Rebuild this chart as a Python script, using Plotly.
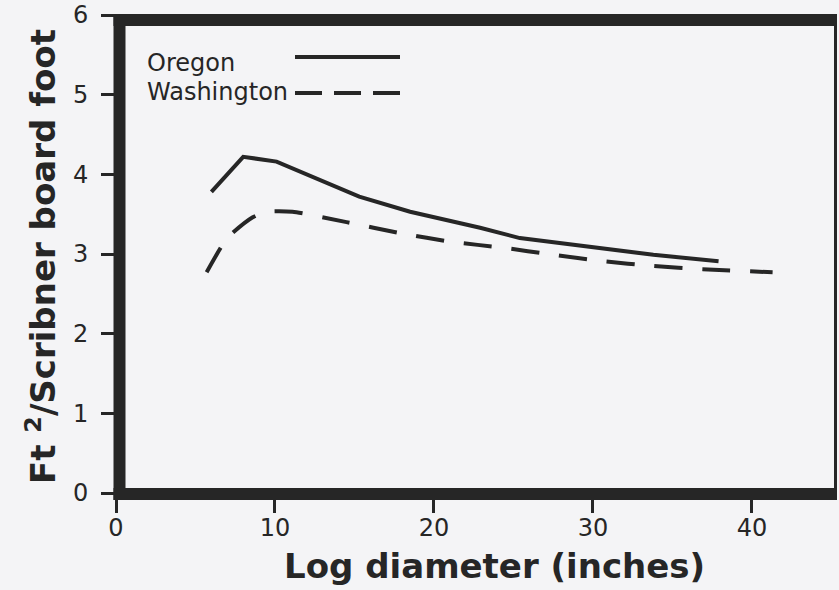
import plotly.graph_objects as go

# Data
oregon_x = [6.0, 8.0, 10.1, 12.8, 15.3, 18.5, 22.9, 25.4, 30.2, 33.8, 37.9]
oregon_y = [3.78, 4.22, 4.16, 3.93, 3.72, 3.53, 3.33, 3.20, 3.08, 2.99, 2.91]
washington_x = [5.7, 7.0, 8.6, 9.5, 11.1, 14.5, 17.9, 21.2, 24.3, 27.5, 30.6, 33.8, 36.9, 41.3]
washington_y = [2.77, 3.20, 3.46, 3.53, 3.53, 3.40, 3.26, 3.15, 3.08, 2.99, 2.91, 2.85, 2.81, 2.77]
x_ticks = [0, 10, 20, 30, 40]
y_ticks = [0, 1, 2, 3, 4, 5, 6]
series_names = ["Oregon", "Washington"]

W, H = 839, 590
L, R, T, B = 116, 2, 15, 97
PW, PH = W - L - R, H - T - B
INK = "#262626"
BG = "#f4f4f6"
FONT = "DejaVu Sans, Arial"


def px(xp):
    return (xp - L) / PW


def py(yp):
    return (H - B - yp) / PH


fig = go.Figure()
fig.add_trace(go.Scatter(x=oregon_x, y=oregon_y, mode="lines", name=series_names[0],
                         line=dict(color=INK, width=4)))
fig.add_trace(go.Scatter(x=washington_x, y=washington_y, mode="lines", name=series_names[1],
                         line=dict(color=INK, width=4, dash="28px,20px", shape="spline", smoothing=0.6)))

shapes = []
# frame
shapes.append(dict(type="line", xref="paper", yref="paper", x0=px(119.5), x1=px(119.5),
                   y0=py(500), y1=py(14), line=dict(color=INK, width=12)))
shapes.append(dict(type="line", xref="paper", yref="paper", x0=px(113.5), x1=px(837),
                   y0=py(494), y1=py(494), line=dict(color=INK, width=12)))
shapes.append(dict(type="line", xref="paper", yref="paper", x0=px(113.5), x1=px(837),
                   y0=py(20), y1=py(20), line=dict(color=INK, width=12)))
shapes.append(dict(type="line", xref="paper", yref="paper", x0=px(835.5), x1=px(835.5),
                   y0=py(500), y1=py(14), line=dict(color=INK, width=3)))
# legend samples
shapes.append(dict(type="line", xref="paper", yref="paper", x0=px(295), x1=px(400),
                   y0=py(57), y1=py(57), line=dict(color=INK, width=4)))
shapes.append(dict(type="line", xref="paper", yref="paper", x0=px(295), x1=px(400),
                   y0=py(93), y1=py(93), line=dict(color=INK, width=4, dash="27px,12px")))

annotations = [
    dict(text=series_names[0], xref="paper", yref="paper", x=px(145), y=py(63),
         xanchor="left", yanchor="middle", showarrow=False,
         font=dict(family=FONT, size=24, color=INK)),
    dict(text=series_names[1], xref="paper", yref="paper", x=px(145), y=py(92),
         xanchor="left", yanchor="middle", showarrow=False,
         font=dict(family=FONT, size=24, color=INK)),
    dict(text="Log diameter (inches)", xref="paper", yref="paper", x=px(494), y=py(566),
         xanchor="center", yanchor="middle", showarrow=False,
         font=dict(family=FONT, size=34, color=INK, weight="bold")),
    dict(text="Ft <sup>2</sup>/Scribner board foot", xref="paper", yref="paper", x=px(41), y=py(257),
         xanchor="center", yanchor="middle", showarrow=False, textangle=-90,
         font=dict(family=FONT, size=34, color=INK, weight="bold")),
]

fig.update_layout(
    width=W, height=H,
    margin=dict(l=L, r=R, t=T, b=B),
    paper_bgcolor=BG, plot_bgcolor=BG,
    showlegend=False,
    shapes=shapes,
    annotations=annotations,
    xaxis=dict(range=[0, 45.35], tickvals=x_ticks, ticktext=[str(v) for v in x_ticks],
               showgrid=False, zeroline=False, showline=False,
               ticks="outside", ticklen=19, tickwidth=2.5, tickcolor=INK,
               ticklabelstandoff=-6,
               tickfont=dict(family=FONT, size=24, color=INK)),
    yaxis=dict(range=[0, 6], tickvals=y_ticks, ticktext=[str(v) for v in y_ticks],
               showgrid=False, zeroline=False, showline=False,
               ticks="outside", ticklen=14, tickwidth=2.5, tickcolor=INK,
               ticklabelstandoff=8,
               tickfont=dict(family=FONT, size=24, color=INK)),
)

fig.write_html("out.html")
